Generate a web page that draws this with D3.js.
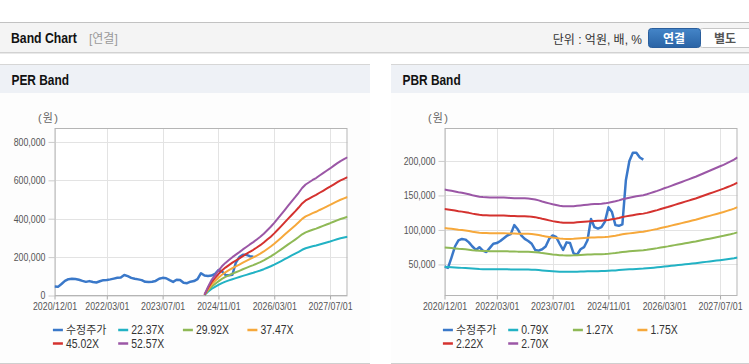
<!DOCTYPE html>
<html><head><meta charset="utf-8">
<script src="https://cdn.jsdelivr.net/npm/d3@7"></script>
<style>
html,body{margin:0;padding:0;background:#fff;}
svg{display:block;}
text{font-family:"Liberation Sans",Arial,"Noto Sans CJK KR",sans-serif;}
</style></head><body>
<svg id="c" width="749" height="364"></svg>
<script>
// ---------- DATA ----------
const months = d3.timeMonth.range(new Date(2020, 11, 1), new Date(2028, 0, 1));
const categories = months.map(d3.timeFormat("%Y/%m/%d"));
const tickLabels = ["2020/12/01", "2022/03/01", "2023/07/01", "2024/11/01", "2026/03/01", "2027/07/01"];

// adjusted share price (수정주가), monthly from 2020/12
const price = [47000, 45000, 60000, 76000, 85000, 87000, 86000, 82000, 76000, 71000,
  75000, 70000, 68000, 74000, 80000, 81000, 84000, 88000, 92000, 94000,
  107000, 101000, 92000, 87000, 84000, 80000, 71000, 70000, 72000, 76000,
  87000, 92000, 90000, 80000, 71000, 82000, 81000, 66000, 64000, 72000,
  75000, 85000, 116000, 104000, 102000, 104000, 112000, 133000, 126000, 107000,
  106000, 108000, 172000, 200000, 212000, 212000, 205000, 202000];

// PER band: EPS base (starts at month index 43) and multiples
const epsStart = 43;
const eps = [95, 856, 1520, 2000, 2470, 2890, 3230, 3520, 3800, 4050,
  4300, 4565, 4810, 5060, 5290, 5555, 5820, 6125, 6470, 6810,
  7190, 7610, 8030, 8465, 8900, 9320, 9740, 10180, 10650, 11000,
  11220, 11450, 11640, 11890, 12120, 12360, 12590, 12840, 13090, 13315,
  13505, 13700];
const perMultiples = [22.37, 29.92, 37.47, 45.02, 52.57];
const perLabels = ["22.37X", "29.92X", "37.47X", "45.02X", "52.57X"];
const perTicks = [0, 200000, 400000, 600000, 800000];

// PBR band: BPS base (all months) and multiples
const bps = [58700, 58400, 58100, 57700, 57300, 57000, 56600, 56200, 55700, 55300,
  54900, 54700, 54600, 54500, 54500, 54400, 54400, 54400, 54300, 54200,
  54100, 54000, 54000, 54000, 53900, 53700, 53400, 52900, 52300, 51800,
  51300, 50800, 50400, 50000, 49800, 49700, 49700, 49800, 50000, 50200,
  50400, 50600, 50800, 50900, 51000, 51100, 51300, 51600, 52000, 52400,
  52900, 53500, 53900, 54300, 54700, 55100, 55400, 55700, 56200, 56800,
  57400, 58000, 58700, 59400, 60000, 60700, 61400, 62100, 62800, 63500,
  64200, 64900, 65600, 66400, 67200, 68000, 68800, 69600, 70400, 71200,
  72000, 72900, 73800, 74800, 76000];
const pbrMultiples = [0.79, 1.27, 1.75, 2.22, 2.70];
const pbrLabels = ["0.79X", "1.27X", "1.75X", "2.22X", "2.70X"];
const pbrTicks = [50000, 100000, 150000, 200000];

const priceLabel = "수정주가";
const colors = ["#3a78c9", "#22b2c4", "#8fb956", "#f6a83b", "#d4322f", "#9b57a6"];

// ---------- PAGE ----------
const svg = d3.select("#c");
svg.append("rect").attr("width", 749).attr("height", 364).attr("fill", "#fff");

function ntext(parent, x, y, size, sx, str) {
  return parent.append("text").attr("transform", `translate(${x},${y}) scale(${sx},1)`)
    .attr("font-size", size).text(str);
}

// header bar
svg.append("rect").attr("x", 0).attr("y", 23).attr("width", 749).attr("height", 29).attr("fill", "#f4f4f4");
svg.append("line").attr("x1", 0).attr("x2", 749).attr("y1", 22.5).attr("y2", 22.5).attr("stroke", "#c2c2c2");
svg.append("line").attr("x1", 0).attr("x2", 749).attr("y1", 52.5).attr("y2", 52.5).attr("stroke", "#d2d2d2");
svg.append("line").attr("x1", 0).attr("x2", 749).attr("y1", 53.5).attr("y2", 53.5).attr("stroke", "#e9e9e9");
ntext(svg, 11, 43, 14, 0.875, "Band Chart").attr("font-weight", "bold").attr("fill", "#111");
svg.append("text").attr("x", 89).attr("y", 43).attr("font-size", 12).attr("fill", "#9a9a9a").text("[연결]");
svg.append("text").attr("x", 642).attr("y", 43.5).attr("font-size", 12).attr("fill", "#333")
  .attr("text-anchor", "end").text("단위 : 억원, 배, %");
const grad = svg.append("defs").append("linearGradient").attr("id", "btn").attr("x1", 0).attr("x2", 0).attr("y1", 0).attr("y2", 1);
grad.append("stop").attr("offset", 0).attr("stop-color", "#4485c8");
grad.append("stop").attr("offset", 1).attr("stop-color", "#2963a5");
svg.append("rect").attr("x", 699.5).attr("y", 28.5).attr("width", 55).attr("height", 19).attr("rx", 3)
  .attr("fill", "#fff").attr("stroke", "#c6c6c6");
svg.append("rect").attr("x", 648.5).attr("y", 28.5).attr("width", 52).attr("height", 19).attr("rx", 3)
  .attr("fill", "url(#btn)").attr("stroke", "#2a5e9c");
svg.append("text").attr("x", 674).attr("y", 42.5).attr("font-size", 12).attr("font-weight", "bold")
  .attr("fill", "#fff").attr("text-anchor", "middle").text("연결");
svg.append("text").attr("x", 725).attr("y", 42.5).attr("font-size", 12).attr("font-weight", "bold")
  .attr("fill", "#555").attr("text-anchor", "middle").text("별도");

function panel(px, pw, title) {
  svg.append("rect").attr("x", px).attr("y", 64).attr("width", pw).attr("height", 299).attr("fill", "#fdfdfd");
  svg.append("rect").attr("x", px).attr("y", 65).attr("width", pw).attr("height", 28).attr("fill", "#eef1f6");
  svg.append("line").attr("x1", px).attr("x2", px + pw).attr("y1", 64.5).attr("y2", 64.5).attr("stroke", "#d6d6d6");
  svg.append("line").attr("x1", px).attr("x2", px + pw).attr("y1", 363.5).attr("y2", 363.5).attr("stroke", "#cfcfcf");
  ntext(svg, px + 11.5, 85, 14, 0.85, title).attr("font-weight", "bold").attr("fill", "#111");
}
panel(0, 370, "PER Band");
panel(391, 358, "PBR Band");

function chart(opt) {
  const { x0, yDomain, yTicks, bands, bandLabels, bandStart } = opt;
  const top = 128.5, bottom = 295.5, width = 293;
  const g = svg.append("g");
  const x = d3.scalePoint().domain(categories).range([x0, x0 + width]);
  const y = d3.scaleLinear().domain(yDomain).range([bottom, top]);

  g.append("rect").attr("x", x0).attr("y", top).attr("width", width).attr("height", bottom - top).attr("fill", "#fff");

  // grid
  g.selectAll(".vg").data(tickLabels).join("line")
    .attr("x1", d => Math.round(x(d)) + 0.5).attr("x2", d => Math.round(x(d)) + 0.5)
    .attr("y1", top).attr("y2", bottom).attr("stroke", "#e3e3e3");
  g.selectAll(".hg").data(yTicks).join("line")
    .attr("x1", x0).attr("x2", x0 + width)
    .attr("y1", d => Math.round(y(d)) + 0.5).attr("y2", d => Math.round(y(d)) + 0.5).attr("stroke", "#e3e3e3");

  // axes
  const xa = g.append("g").attr("transform", `translate(0,${bottom})`)
    .call(d3.axisBottom(x).tickValues(tickLabels).tickSize(4).tickSizeOuter(0).tickPadding(3));
  xa.select(".domain").remove();
  xa.selectAll("line").attr("stroke", "#aaa");
  xa.selectAll("text").attr("font-size", 10.5).attr("fill", "#555")
    .attr("font-family", '"Liberation Sans",Arial,sans-serif').attr("transform", "scale(0.84,1)");
  const ya = g.append("g").attr("transform", `translate(${x0},0)`)
    .call(d3.axisLeft(y).tickValues(yTicks).tickSize(6).tickSizeOuter(0).tickPadding(4.7).tickFormat(d3.format(",")));
  ya.select(".domain").remove();
  ya.selectAll("line").attr("stroke", "#ccc");
  ya.selectAll("text").attr("font-size", 10.5).attr("fill", "#555")
    .attr("font-family", '"Liberation Sans",Arial,sans-serif').attr("transform", "scale(0.84,1)");

  // plot border
  g.append("rect").attr("x", x0 + 0.5).attr("y", top).attr("width", width - 1).attr("height", bottom - top)
    .attr("fill", "none").attr("stroke", "#b5b5b5");

  g.append("text").attr("x", x0 - 6).attr("y", 122).attr("font-size", 11).attr("fill", "#666")
    .attr("letter-spacing", 1.2).attr("text-anchor", "middle").text("(원)");

  const line = d3.line().x(d => x(categories[d.i])).y(d => y(d.v));
  const clip = "clip" + Math.round(x0);
  g.append("clipPath").attr("id", clip).append("rect").attr("x", x0).attr("y", top).attr("width", width).attr("height", bottom - top + 1);
  const lg = g.append("g").attr("clip-path", `url(#${clip})`);

  lg.append("path").datum(price.map((v, i) => ({ i, v })))
    .attr("d", line).attr("fill", "none").attr("stroke", colors[0]).attr("stroke-width", 2.5)
    .attr("stroke-linejoin", "round");
  opt.multiples.forEach((m, k) => {
    lg.append("path").datum(bands.map((b, j) => ({ i: bandStart + j, v: b * m })))
      .attr("d", line).attr("fill", "none").attr("stroke", colors[k + 1]).attr("stroke-width", 2)
      .attr("stroke-linejoin", "round");
  });

  // legend
  const names = [priceLabel].concat(bandLabels);
  const colX = [0, 65.3, 130, 194.5];
  names.forEach((n, k) => {
    const lx = x0 - 1.6 + colX[k % 4];
    const ly = k < 4 ? 330 : 343.5;
    g.append("line").attr("x1", lx).attr("x2", lx + 10).attr("y1", ly).attr("y2", ly)
      .attr("stroke", colors[k]).attr("stroke-width", 2.5);
    ntext(g, lx + 13, ly, k === 0 ? 11 : 12, k === 0 ? 1 : 0.87, n)
      .attr("dy", "0.36em").attr("fill", "#333");
  });
}

chart({ x0: 54.5, yDomain: [0, 870000], yTicks: perTicks, bands: eps, bandStart: epsStart,
  multiples: perMultiples, bandLabels: perLabels });
chart({ x0: 444.5, yDomain: [5000, 247000], yTicks: pbrTicks, bands: bps, bandStart: 0,
  multiples: pbrMultiples, bandLabels: pbrLabels });
</script>
</body></html>
